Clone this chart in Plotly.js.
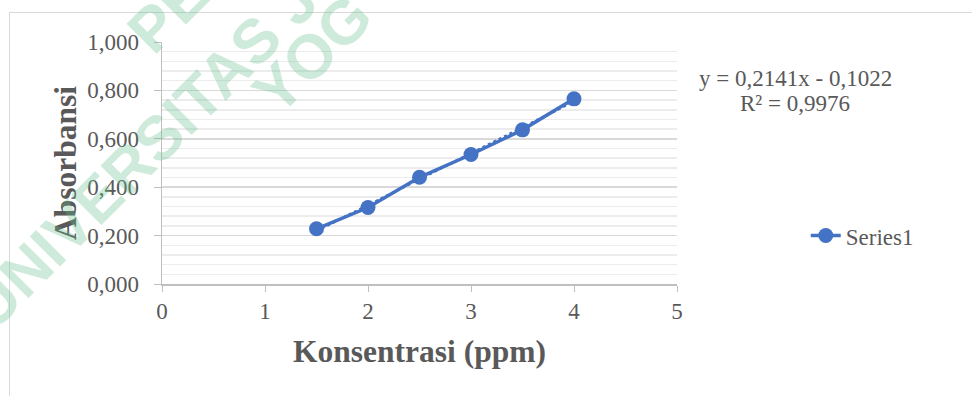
<!DOCTYPE html>
<html>
<head>
<meta charset="utf-8">
<script src="https://cdn.plot.ly/plotly-3.0.1.min.js"></script>
<style>
  html, body { margin: 0; padding: 0; background: #ffffff; overflow: hidden; }
  #wrap { position: relative; width: 972px; height: 396px; overflow: hidden; }
  #frame { position: absolute; left: 9px; top: 12px; width: 1100px; height: 600px; border: 1px solid #d9d9d9; box-sizing: border-box; }
  #chart { position: absolute; left: 0; top: 0; width: 972px; height: 396px; }
  .wm { position: absolute; font-family: "Liberation Sans", Arial, sans-serif; font-weight: bold; font-size: 62px; line-height: 1; white-space: nowrap;
        color: rgba(100, 190, 140, 0.32); transform-origin: 0 0; transform: rotate(-45deg); pointer-events: none; }
</style>
</head>
<body>
<div id="wrap">
  <div id="frame"></div>
  <div id="chart"></div>
  <div class="wm" style="left:117px; top:20px;">PE</div>
  <div class="wm" style="left:-43px; top:296px;">UNIVERSITAS J</div>
  <div class="wm" style="left:242px; top:81px;">YOG</div>
</div>
<script>
// ---- data ----
const concentration = [1.5, 2, 2.5, 3, 3.5, 4];
const absorbance = [0.228, 0.316, 0.441, 0.535, 0.637, 0.765];
const seriesName = "Series1";
const trendSlope = 0.2141;
const trendIntercept = -0.1022;
const equationText = "y = 0,2141x - 0,1022";
const r2Text = "R² = 0,9976";
const xTitle = "Konsentrasi (ppm)";
const yTitle = "Absorbansi";

const blue = "#4472C4";
const grey = "#595959";
const serif = "Liberation Serif, Times New Roman, serif";

const xFirst = concentration[0];
const xLast = concentration[concentration.length - 1];

const traces = [
  {
    x: [xFirst, xLast],
    y: [trendSlope * xFirst + trendIntercept, trendSlope * xLast + trendIntercept],
    mode: "lines",
    line: { color: blue, width: 2.5, dash: "dot" },
    showlegend: false,
    hoverinfo: "skip"
  },
  {
    x: concentration,
    y: absorbance,
    name: seriesName,
    mode: "lines+markers",
    line: { color: blue, width: 3.5 },
    marker: { color: blue, size: 15 }
  }
];

const layout = {
  width: 972,
  height: 396,
  margin: { l: 162, r: 295, t: 42, b: 112 },
  paper_bgcolor: "rgba(0,0,0,0)",
  plot_bgcolor: "rgba(0,0,0,0)",
  separators: ",.",
  font: { family: serif, size: 23, color: grey },
  xaxis: {
    range: [0, 5],
    dtick: 1,
    tick0: 0,
    showgrid: false,
    zeroline: false,
    showline: true,
    linecolor: "#bfbfbf",
    linewidth: 1.5,
    ticks: "outside",
    ticklen: 6,
    tickcolor: "#bfbfbf",
    tickfont: { family: serif, size: 23, color: grey },
    title: { text: xTitle, font: { family: serif, size: 31.5, color: grey, weight: "bold" }, standoff: 17 },
    automargin: false,
    fixedrange: true
  },
  yaxis: {
    range: [0, 1],
    dtick: 0.2,
    tick0: 0,
    tickformat: ".3f",
    showgrid: true,
    gridcolor: "#d9d9d9",
    gridwidth: 1.5,
    zeroline: false,
    showline: true,
    linecolor: "#bfbfbf",
    linewidth: 1.5,
    ticks: "outside",
    ticklen: 7,
    tickcolor: "#bfbfbf",
    ticklabelstandoff: 10,
    tickfont: { family: serif, size: 23, color: grey },
    minor: { dtick: 0.04, showgrid: true, gridcolor: "#ececec", gridwidth: 1.5, ticks: "" },
    title: { text: yTitle, font: { family: serif, size: 31.5, color: grey, weight: "bold" }, standoff: 1 },
    automargin: false,
    fixedrange: true
  },
  legend: {
    x: 1.25,
    y: 0.2,
    xanchor: "left",
    yanchor: "middle",
    bgcolor: "rgba(0,0,0,0)",
    font: { family: serif, size: 23, color: grey }
  },
  annotations: [
    {
      xref: "paper", yref: "paper",
      x: 1.23, y: 0.851,
      xanchor: "center", yanchor: "middle",
      showarrow: false,
      text: equationText,
      font: { family: serif, size: 23, color: grey }
    },
    {
      xref: "paper", yref: "paper",
      x: 1.23, y: 0.744,
      xanchor: "center", yanchor: "middle",
      showarrow: false,
      text: r2Text,
      font: { family: serif, size: 23, color: grey }
    }
  ],
  showlegend: true
};

Plotly.newPlot("chart", traces, layout, { displayModeBar: false, staticPlot: true });
</script>
</body>
</html>
